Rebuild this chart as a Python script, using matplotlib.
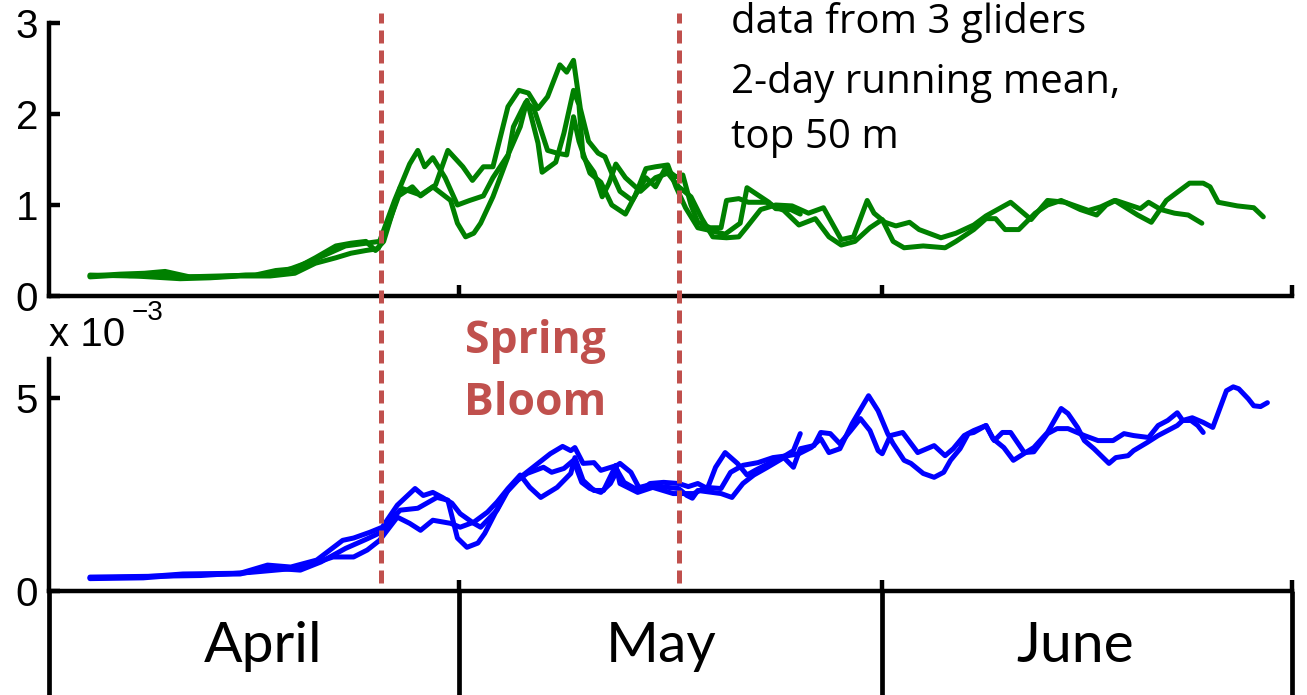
import matplotlib
matplotlib.use("Agg")
import matplotlib.pyplot as plt
from matplotlib.lines import Line2D
from matplotlib.transforms import blended_transform_factory

# ---------------------------------------------------------------
# Glider time series, top 50 m, 2-day running mean.
# Time axis: days since 1 April (0 = 1 April, 30 = 1 May, 61 = 1 June, 91 = 1 July)
# ---------------------------------------------------------------

# chlorophyll (top panel)
chl_day_1 = [3.0, 5.2, 7.0, 8.5, 10.3, 12.2, 14.4, 16.2, 17.7, 18.8, 20.2, 21.7, 23.2, 24.2,
             25.3, 26.4, 27.0, 27.5, 28.1, 29.0, 29.9, 30.8, 31.8, 32.5, 33.6, 34.5, 35.0,
             35.8, 36.1, 37.1, 37.7, 38.4, 38.8, 39.1, 39.9, 40.5, 41.0, 41.5, 42.2, 43.3,
             44.4, 45.3, 46.1, 47.0, 47.8, 48.6, 49.6, 50.5, 51.1, 52.1, 53.2, 54.4, 55.6,
             56.7, 58.0, 58.9, 59.9, 60.4, 61.2, 62.0, 63.0, 63.7, 65.3, 66.4, 67.7, 68.6,
             70.4, 71.9, 73.1, 74.4, 76.1, 77.0, 78.0, 79.7, 80.7, 81.8, 82.6, 83.5, 84.5,
             85.0, 85.6, 87.0, 88.2, 88.9]
chl_val_1 = [0.22, 0.24, 0.25, 0.27, 0.21, 0.21, 0.23, 0.23, 0.30, 0.36, 0.45, 0.55, 0.58, 0.60,
             1.05, 1.45, 1.60, 1.42, 1.52, 1.30, 1.00, 1.05, 1.10, 1.30, 1.55, 1.86, 2.15,
             1.68, 1.36, 1.47, 1.79, 2.26, 2.10, 1.53, 1.36, 1.09, 1.24, 1.45, 1.30, 1.15,
             1.30, 1.35, 1.20, 1.09, 0.85, 0.65, 0.64, 0.65, 0.76, 0.95, 1.00, 0.99, 0.91,
             0.97, 0.62, 0.65, 1.05, 0.91, 0.81, 0.77, 0.81, 0.73, 0.64, 0.69, 0.78, 0.88,
             1.03, 0.84, 1.05, 1.03, 0.94, 0.98, 1.05, 0.89, 0.81, 1.05, 1.14, 1.24, 1.24,
             1.20, 1.03, 0.99, 0.97, 0.87]

chl_day_2 = [3.0, 5.2, 7.4, 9.6, 11.8, 14.0, 16.2, 18.0, 19.5, 21.0, 22.1, 23.2, 24.1, 24.5,
             25.6, 26.6, 27.2, 28.3, 29.2, 30.3, 31.0, 31.8, 32.5, 33.6, 34.4, 35.1, 35.8,
             36.5, 37.4, 37.9, 38.4, 38.9, 39.5, 40.2, 40.7, 41.2, 41.8, 42.7, 43.7, 44.4,
             45.1, 45.9, 46.4, 47.0, 47.5, 48.4, 49.2, 49.6, 50.5, 51.2, 52.5, 53.8, 54.9,
             56.1, 57.1, 58.0, 59.0, 60.1, 61.0, 61.8, 62.6, 64.0, 65.6, 66.4, 67.7, 68.6,
             69.3, 70.0, 71.0, 72.2, 73.1, 74.1, 75.5, 76.7, 77.4, 78.1, 79.9, 80.5, 81.4,
             82.4, 83.4, 84.4]
chl_val_2 = [0.21, 0.23, 0.21, 0.19, 0.20, 0.22, 0.22, 0.25, 0.36, 0.42, 0.47, 0.50, 0.52, 0.65,
             1.10, 1.20, 1.10, 1.22, 1.60, 1.42, 1.27, 1.42, 1.42, 2.08, 2.26, 2.23, 2.06,
             2.19, 2.54, 2.46, 2.59, 2.06, 1.70, 1.57, 1.53, 1.35, 1.15, 1.05, 1.30, 1.20,
             1.40, 1.31, 1.33, 1.00, 0.81, 0.75, 0.75, 1.05, 1.07, 1.03, 1.03, 0.94, 0.78,
             0.85, 0.65, 0.56, 0.60, 0.75, 0.84, 0.60, 0.53, 0.55, 0.53, 0.60, 0.73, 0.85,
             0.85, 0.73, 0.73, 0.91, 1.00, 1.05, 0.95, 0.89, 1.00, 1.05, 0.96, 1.03, 0.95,
             0.91, 0.89, 0.80]

chl_day_3 = [3.0, 5.9, 8.1, 10.0, 12.5, 15.1, 16.6, 18.0, 19.5, 21.0, 22.1, 23.2, 23.9, 24.5,
             25.7, 27.2, 28.1, 29.4, 29.9, 30.5, 31.1, 31.6, 32.5, 33.6, 34.0, 34.9, 35.5,
             36.5, 37.2, 37.9, 38.4, 38.8, 39.6, 40.4, 41.2, 42.2, 42.9, 43.7, 44.4, 45.3,
             45.9, 46.6, 47.5, 48.4, 49.5, 50.6, 51.1, 51.7, 52.7, 53.2, 54.3, 55.0]
chl_val_3 = [0.23, 0.22, 0.23, 0.21, 0.22, 0.23, 0.28, 0.30, 0.42, 0.55, 0.58, 0.60, 0.50, 0.60,
             1.19, 1.11, 1.20, 1.05, 0.80, 0.65, 0.69, 0.80, 1.09, 1.53, 1.86, 2.13, 2.06,
             1.60, 1.57, 1.55, 1.97, 1.70, 1.35, 1.25, 1.00, 0.90, 1.10, 1.40, 1.42, 1.44,
             1.20, 0.97, 0.75, 0.72, 0.68, 0.80, 1.19, 1.13, 1.03, 0.96, 0.95, 0.90]

# optical backscatter (bottom panel), units of 1e-3
bbp_day_1 = [3.0, 6.7, 9.8, 14.0, 16.0, 17.7, 19.6, 21.5, 22.3, 23.5, 24.4, 25.5, 26.8, 27.4,
             28.1, 28.8, 29.5, 30.1, 31.1, 31.6, 32.8, 33.6, 34.5, 35.8, 36.7, 37.6, 38.2,
             38.5, 39.1, 39.9, 40.4, 41.6, 41.8, 42.6, 43.3, 44.0, 45.0, 46.1, 46.8, 47.5,
             48.2, 48.8, 49.5, 50.4, 51.1, 51.7, 52.7, 53.9, 54.5, 55.0]
bbp_val_1 = [0.34, 0.36, 0.44, 0.46, 0.67, 0.62, 0.80, 1.31, 1.37, 1.52, 1.65, 2.22, 2.65, 2.47,
             2.55, 2.42, 2.27, 2.00, 1.75, 1.65, 2.09, 2.60, 2.94, 3.30, 3.55, 3.74, 3.63,
             3.71, 3.30, 3.32, 3.12, 3.25, 3.30, 3.07, 2.60, 2.78, 2.81, 2.78, 2.70, 2.78,
             2.65, 3.20, 3.58, 3.30, 3.00, 3.12, 3.30, 3.50, 3.63, 4.07]

bbp_day_2 = [3.0, 6.9, 9.8, 14.0, 16.0, 18.4, 19.9, 21.7, 23.3, 24.2, 25.7, 27.0, 28.4, 29.2,
             29.9, 30.6, 31.4, 31.9, 33.4, 34.3, 35.0, 36.2, 36.8, 37.7, 38.4, 39.0, 39.6,
             40.4, 41.1, 41.6, 42.1, 42.9, 43.8, 45.3, 46.1, 46.7, 47.1, 47.5, 49.2, 50.0,
             50.8, 51.6, 52.6, 53.8, 54.5, 55.0, 56.0, 56.5, 57.2, 57.9, 58.7, 59.4, 60.1,
             60.7, 61.0, 61.6, 62.5, 63.6, 64.8, 65.6, 66.2, 67.0, 67.7, 68.6, 69.2, 69.8,
             70.4, 71.4, 72.1, 73.1, 73.8, 74.6, 75.8, 76.8, 77.9, 78.7, 79.4, 80.5, 81.2,
             81.9, 82.6, 83.0, 83.7, 84.5, 85.2, 85.6, 86.2, 86.7, 87.1, 87.8, 88.2, 88.7,
             89.2]
bbp_val_2 = [0.32, 0.34, 0.42, 0.44, 0.60, 0.54, 0.75, 1.10, 1.35, 1.50, 2.09, 2.14, 2.42, 2.35,
             1.37, 1.13, 1.24, 1.49, 2.52, 2.86, 3.04, 3.20, 3.07, 3.17, 3.38, 2.81, 2.65,
             2.55, 2.78, 3.12, 2.81, 2.65, 2.73, 2.68, 2.65, 2.47, 2.40, 2.60, 2.52, 2.42,
             2.78, 3.00, 3.20, 3.45, 3.20, 3.68, 3.76, 4.10, 4.07, 3.81, 4.15, 4.46, 4.15,
             3.63, 3.55, 4.02, 4.10, 3.58, 3.76, 3.50, 3.68, 4.02, 4.15, 4.28, 3.89, 4.10,
             4.10, 3.58, 3.60, 4.07, 4.20, 4.20, 4.02, 3.89, 3.89, 4.07, 4.02, 3.97, 4.28,
             4.41, 4.61, 4.41, 4.48, 4.36, 4.23, 4.61, 5.18, 5.28, 5.23, 4.97, 4.79, 4.77,
             4.87]

bbp_day_3 = [3.0, 7.4, 11.1, 14.7, 16.9, 18.4, 20.8, 22.3, 23.3, 24.2, 25.5, 26.4, 27.2, 28.1,
             29.4, 30.1, 31.1, 32.1, 32.8, 33.6, 34.5, 35.2, 36.0, 37.2, 38.2, 38.5, 39.1,
             39.9, 40.6, 41.5, 41.8, 43.1, 44.2, 45.7, 47.2, 48.1, 49.2, 49.9, 50.8, 51.9,
             53.0, 54.1, 54.9, 55.8, 56.5, 57.1, 57.9, 58.8, 60.0, 60.7, 61.4, 61.8, 62.6,
             63.1, 64.0, 64.8, 65.5, 66.0, 66.7, 67.3, 67.7, 68.6, 69.1, 69.9, 70.6, 71.5,
             72.1, 73.1, 74.1, 74.6, 75.3, 75.8, 76.5, 77.6, 78.1, 79.0, 79.4, 80.4, 81.2,
             81.9, 82.6, 83.0, 83.6, 84.1, 84.5]
bbp_val_3 = [0.36, 0.38, 0.40, 0.48, 0.55, 0.60, 0.88, 0.88, 1.06, 1.31, 1.91, 1.75, 1.57, 1.83,
             1.75, 1.65, 1.78, 2.04, 2.30, 2.65, 3.00, 2.68, 2.42, 2.68, 3.04, 3.45, 2.86,
             2.60, 2.60, 3.25, 2.78, 2.55, 2.68, 2.52, 2.52, 2.68, 2.65, 3.07, 3.25, 3.32,
             3.45, 3.50, 3.55, 3.71, 3.94, 3.58, 3.68, 4.33, 5.05, 4.66, 4.07, 3.81, 3.38,
             3.30, 3.04, 2.94, 3.07, 3.38, 3.68, 4.07, 4.10, 4.28, 3.94, 3.71, 3.38, 3.58,
             3.71, 4.10, 4.72, 4.59, 4.23, 3.89, 3.68, 3.30, 3.45, 3.50, 3.63, 3.84, 4.02,
             4.15, 4.28, 4.41, 4.41, 4.28, 4.10]

month_names = ["April", "May", "June"]
month_edges = [0, 30, 61, 91]
month_label_pos = [15.7, 44.8, 75.1]
bloom_start, bloom_end = 24.3, 46.1

chl_ticks = [0, 1, 2, 3]
bbp_ticks = [0, 5]

# ---------------------------------------------------------------
W, H = 1307, 695
fig = plt.figure(figsize=(W / 100, H / 100), dpi=100)
fig.patch.set_facecolor("white")


def rect(left, top, right, bottom):
    return [left / W, 1 - bottom / H, (right - left) / W, (bottom - top) / H]


def fx(px):
    return px / W


def fy(py):
    return 1 - py / H


GREEN = "#008000"
BLUE = "#0000FF"
RED = "#C0504D"
TICK_FONT = "Liberation Sans"

ax_chl = fig.add_axes(rect(49, 23, 1292, 296))
ax_bbp = fig.add_axes(rect(49, 359, 1292, 591))
ax_mon = fig.add_axes(rect(49, 591, 1292, 695))

for ax, ylim, yt in ((ax_chl, (0, 3), chl_ticks), (ax_bbp, (0, 6), bbp_ticks)):
    ax.set_xlim(0, 91)
    ax.set_ylim(*ylim)
    ax.set_yticks(yt)
    ax.set_xticks(month_edges[1:])
    ax.set_xticklabels([])
    for s in ("top", "right"):
        ax.spines[s].set_visible(False)
    for s in ("left", "bottom"):
        ax.spines[s].set_linewidth(3.2)
        ax.spines[s].set_capstyle("projecting")
    ax.tick_params(direction="in", length=8, width=3.2, labelsize=29, pad=8)
    for lab in ax.get_yticklabels():
        lab.set_fontfamily(TICK_FONT)
    ax.patch.set_alpha(0)

line_kw = dict(lw=3.6, solid_joinstyle="round", solid_capstyle="round")
for d, v in ((chl_day_1, chl_val_1), (chl_day_2, chl_val_2), (chl_day_3, chl_val_3)):
    ax_chl.plot(d, v, color=GREEN, **line_kw)
for d, v in ((bbp_day_1, bbp_val_1), (bbp_day_2, bbp_val_2), (bbp_day_3, bbp_val_3)):
    ax_bbp.plot(d, v, color=BLUE, **line_kw)

# month band underneath
ax_mon.set_xlim(0, 91)
ax_mon.set_ylim(0, 1)
ax_mon.axis("off")
for e in month_edges:
    ax_mon.plot([e, e], [0, 1], color="black", lw=3.4, clip_on=False,
                solid_capstyle="butt")
for name, pos in zip(month_names, month_label_pos):
    ax_mon.text(pos, 0.317, name, ha="center", va="baseline", fontsize=41,
                family="Lato", color="black")

# spring bloom boundaries, spanning both panels
tr = blended_transform_factory(ax_bbp.transData, fig.transFigure)
for d in (bloom_start, bloom_end):
    fig.add_artist(Line2D([d, d], [fy(583), fy(13)], transform=tr, color=RED, lw=3.6,
                          linestyle=(0, (2.6, 1.4)), zorder=5))

fig.text(fx(535), fy(353), "Spring", ha="center", va="baseline", fontsize=32,
         fontweight="bold", family="Open Sans", color=RED)
fig.text(fx(535), fy(415), "Bloom", ha="center", va="baseline", fontsize=32,
         fontweight="bold", family="Open Sans", color=RED)

for txt, base in (("data from 3 gliders", 33), ("2-day running mean,", 93), ("top 50 m", 148)):
    fig.text(fx(731), fy(base), txt, ha="left", va="baseline", fontsize=29,
             family="Open Sans", color="black")

# scale factor of the lower panel
fig.text(fx(49), fy(346), "x 10", ha="left", va="baseline", fontsize=29,
         family=TICK_FONT, color="black")
fig.text(fx(132), fy(320), "\u22123", ha="left", va="baseline", fontsize=20,
         family=TICK_FONT, color="black")

fig.savefig("out.png", dpi=100, facecolor="white")
